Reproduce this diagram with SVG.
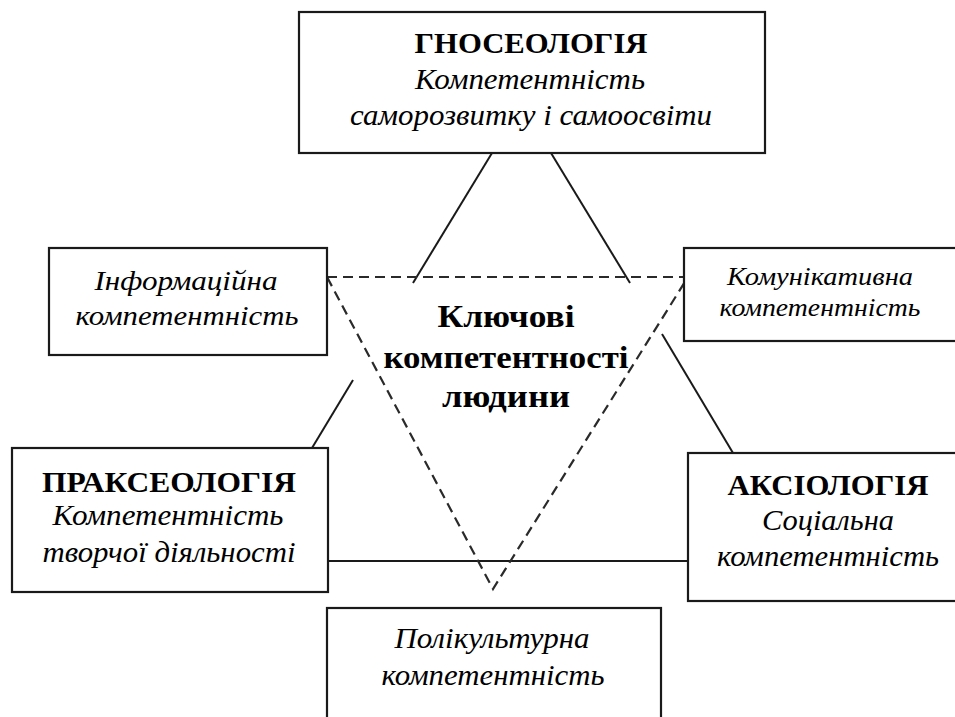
<svg xmlns="http://www.w3.org/2000/svg" width="955" height="717" viewBox="0 0 955 717">
<style>
.box{fill:#fff;stroke:#1a1a1a;stroke-width:2.2}
.ln{stroke:#1a1a1a;stroke-width:2;fill:none}
.dash{stroke:#2a2a2a;stroke-width:2.2;fill:none;stroke-dasharray:10 6}
text{font-family:"Liberation Serif","Times New Roman",serif;fill:#000;text-anchor:middle}
.t{font-weight:bold}
.i{font-style:italic}
</style>
<rect width="955" height="717" fill="#fff"/>
<g id="connectors">
<line class="ln" x1="492" y1="153" x2="413" y2="283"/>
<line class="ln" x1="551" y1="153" x2="630" y2="283"/>
<line class="ln" x1="353" y1="380" x2="312" y2="448"/>
<line class="ln" x1="662" y1="334" x2="733" y2="453"/>
<line class="ln" x1="328" y1="561" x2="688" y2="561"/>
</g>
<g id="triangle">
<polygon class="dash" points="327,277 688,277 493,589"/>
</g>
<g id="center">
<text class="t" x="506" y="327" font-size="32" textLength="137" lengthAdjust="spacingAndGlyphs">Ключові</text>
<text class="t" x="506" y="368" font-size="32" textLength="245" lengthAdjust="spacingAndGlyphs">компетентності</text>
<text class="t" x="506" y="407" font-size="32" textLength="128" lengthAdjust="spacingAndGlyphs">людини</text>
</g>
<g id="gnoseology">
<rect class="box" x="299" y="12" width="466" height="141"/>
<text class="t" x="531" y="53" font-size="30" textLength="233" lengthAdjust="spacingAndGlyphs">ГНОСЕОЛОГІЯ</text>
<text class="i" x="530" y="89" font-size="30" textLength="230" lengthAdjust="spacingAndGlyphs">Компетентність</text>
<text class="i" x="531" y="125" font-size="30" textLength="362" lengthAdjust="spacingAndGlyphs">саморозвитку і самоосвіти</text>
</g>
<g id="info">
<rect class="box" x="49" y="248" width="278" height="107"/>
<text class="i" x="186" y="290" font-size="28" textLength="183" lengthAdjust="spacingAndGlyphs">Інформаційна</text>
<text class="i" x="187" y="325" font-size="28" textLength="223" lengthAdjust="spacingAndGlyphs">компетентність</text>
</g>
<g id="komunik">
<rect class="box" x="684" y="248" width="280" height="93"/>
<text class="i" x="820" y="285" font-size="25" textLength="186" lengthAdjust="spacingAndGlyphs">Комунікативна</text>
<text class="i" x="820" y="316" font-size="25" textLength="201" lengthAdjust="spacingAndGlyphs">компетентність</text>
</g>
<g id="prakseology">
<rect class="box" x="12" y="448" width="316" height="144"/>
<text class="t" x="169" y="492" font-size="30" textLength="254" lengthAdjust="spacingAndGlyphs">ПРАКСЕОЛОГІЯ</text>
<text class="i" x="168" y="525" font-size="29" textLength="231" lengthAdjust="spacingAndGlyphs">Компетентність</text>
<text class="i" x="169" y="562" font-size="29" textLength="253" lengthAdjust="spacingAndGlyphs">творчої діяльності</text>
</g>
<g id="aksiology">
<rect class="box" x="688" y="453" width="280" height="148"/>
<text class="t" x="828" y="495" font-size="30" textLength="201" lengthAdjust="spacingAndGlyphs">АКСІОЛОГІЯ</text>
<text class="i" x="828" y="530" font-size="29" textLength="132" lengthAdjust="spacingAndGlyphs">Соціальна</text>
<text class="i" x="828" y="566" font-size="29" textLength="222" lengthAdjust="spacingAndGlyphs">компетентність</text>
</g>
<g id="polikult">
<rect class="box" x="327" y="608" width="334" height="130"/>
<text class="i" x="492" y="648" font-size="29" textLength="195" lengthAdjust="spacingAndGlyphs">Полікультурна</text>
<text class="i" x="493" y="685" font-size="29" textLength="223" lengthAdjust="spacingAndGlyphs">компетентність</text>
</g>
</svg>
